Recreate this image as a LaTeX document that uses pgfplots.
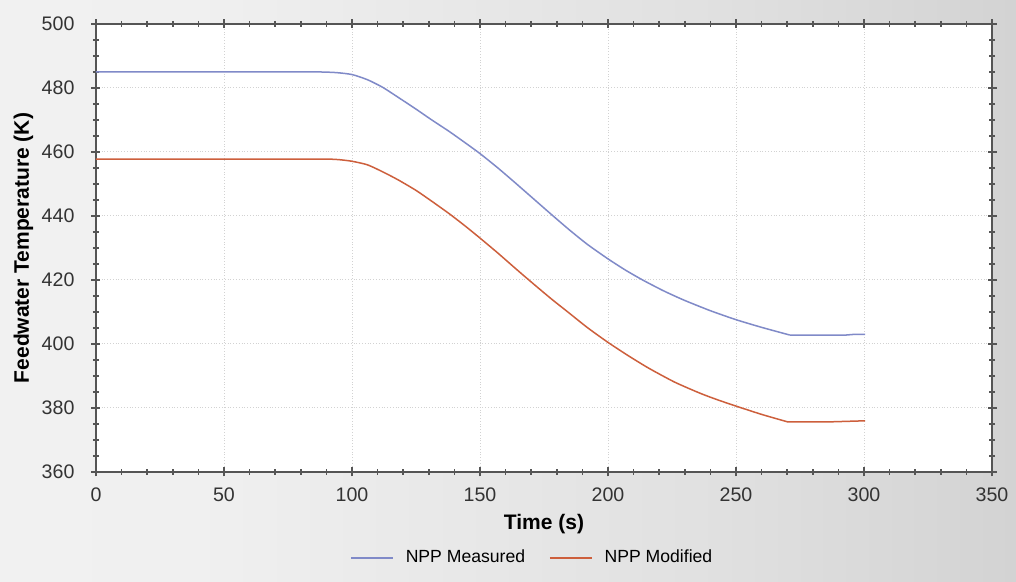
\documentclass[border=0pt]{standalone}
\usepackage{pgfplots}
\pgfplotsset{compat=1.18}
\usepackage{fontspec}
\setmainfont{Liberation Sans}
\definecolor{bluel}{RGB}{128,138,200}
\definecolor{redl}{RGB}{205,95,60}
\definecolor{axgray}{RGB}{85,85,85}
\pgfdeclarehorizontalshading{bgshade}{100bp}{color(0bp)=(black!4); color(35bp)=(black!6); color(60bp)=(black!12); color(100bp)=(black!26)}
\begin{document}
\begin{tikzpicture}
\useasboundingbox (-48pt,-55pt) rectangle (460pt,236pt);
\shade[shading=bgshade] (-48pt,-55pt) rectangle (460pt,236pt);
\begin{axis}[
  scale only axis,
  width=448pt, height=224pt,
  xmin=0, xmax=350, ymin=360, ymax=500,
  xtick={0,50,...,350}, ytick={360,380,...,500},
  minor x tick num=4, minor y tick num=3,
  tick align=center,
  major tick length=4.5pt, minor tick length=3pt,
  axis background/.style={fill=white},
  axis line style={axgray, line width=0.75pt},
  every tick/.style={axgray, line width=0.75pt},
  grid=major,
  major grid style={densely dotted, gray!35, line width=0.5pt},
  tick label style={font=\fontsize{9.8}{12}\selectfont, text=black!80},
  /pgf/number format/assume math mode=true,
  xticklabel style={yshift=-2pt},
  yticklabel style={xshift=-5pt},
  every axis y label/.style={at={(axis description cs:-0.081,0.5)}, rotate=90, anchor=center, font=\bfseries\fontsize{10.5}{12}\selectfont},
  every axis x label/.style={at={(axis description cs:0.5,-0.116)}, anchor=center, font=\bfseries\fontsize{10.5}{12}\selectfont},
  xlabel={Time (s)},
  ylabel={Feedwater Temperature (K)},
  legend style={at={(axis description cs:0.488,-0.192)}, anchor=center, draw=none, fill=none, legend columns=2, font=\fontsize{8.8}{11}\selectfont, /tikz/every even column/.append style={column sep=10pt}},
  legend cell align=left,
  legend image code/.code={\draw[#1, line width=0.8pt] (0pt,0pt) -- (21pt,0pt); \path (25pt,0pt);},
]
\addplot[bluel, line width=0.75pt, smooth, tension=0.4] coordinates {
(0,485) (80,485) (88,485) (94,484.8) (100,484.2) (106,482.6) (112,480.2) (118,477.1) (125,473.4) (131,470.1) (138,466.4) (144,463) (150,459.5) (157,455) (164,450.2) (171,445.3) (178,440.4) (185,435.6) (192,431.1) (200,426.6) (207,423) (214,419.8) (222,416.5) (230,413.6) (240,410.4) (250,407.6) (260,405.2) (271,402.8)
};
\addlegendentry{NPP Measured}
\addplot[redl, line width=0.75pt, smooth, tension=0.4] coordinates {
(0,457.8) (80,457.8) (90,457.8) (95,457.6) (100,457.1) (106,456) (112,453.8) (118,451.3) (125,448) (131,444.7) (138,440.7) (144,437) (150,433.1) (157,428.4) (164,423.5) (171,418.7) (178,414) (184,410.2) (192,405.1) (200,400.5) (208,396.3) (216,392.4) (226,388.1) (236,384.6) (243,382.5) (250,380.6) (260,378) (270,375.7)
};
\addlegendentry{NPP Modified}
\addplot[bluel, line width=0.75pt, forget plot] coordinates {(271,402.8) (293,402.8) (296,403) (300.4,403)};
\addplot[redl, line width=0.75pt, forget plot] coordinates {(270,375.7) (288,375.7) (300.4,376)};
\end{axis}
\end{tikzpicture}
\end{document}
